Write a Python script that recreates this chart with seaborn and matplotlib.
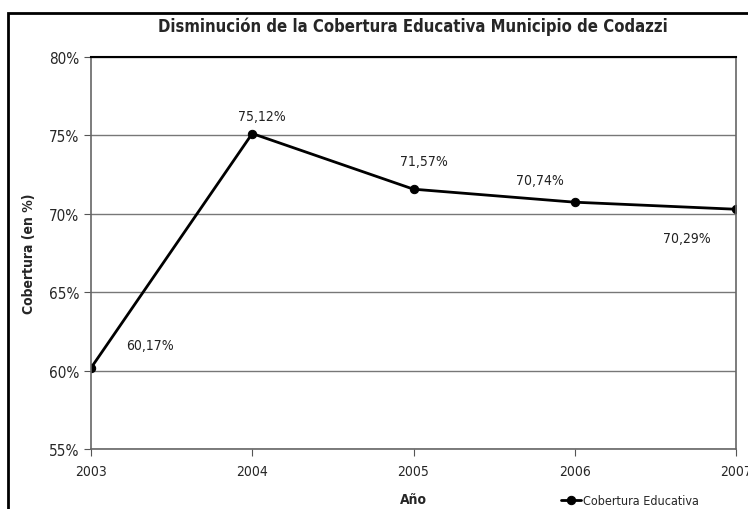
# cobertura educativa Codazzi, 2003-2007

import matplotlib.pyplot as plt
import matplotlib.patches as mpatches
import seaborn as sns
import pandas as pd

years = [2003, 2004, 2005, 2006, 2007]
cobertura = [60.17, 75.12, 71.57, 70.74, 70.29]
label_offsets = [(59, 23), (10, 18), (10, 28), (-35, 22), (-49, -29)]

df = pd.DataFrame({"anio": years, "cobertura": cobertura})

sns.set_style("white")
plt.rcParams["font.family"] = ["DejaVu Sans"]
plt.rcParams["font.stretch"] = "condensed"

fig = plt.figure(figsize=(7.48, 5.10), dpi=100)
ax = fig.add_axes([91 / 748, 60 / 510, (736 - 91) / 748, (450 - 58) / 510])

sns.lineplot(x="anio", y="cobertura", data=df, ax=ax, color="black",
             linewidth=2, marker="o", markersize=6, markeredgecolor="black",
             label="Cobertura Educativa", legend=False)

for x, y, off in zip(years, cobertura, label_offsets):
    ax.annotate(f"{y:.2f}%".replace(".", ","), (x, y), xytext=off,
                textcoords="offset pixels", ha="center", va="center",
                fontsize=10, color="#222222")

ax.set_xlim(2003, 2007)
ax.set_ylim(55, 80)
ax.set_xticks(years)
ax.set_yticks([55, 60, 65, 70, 75, 80])
ax.set_yticklabels([f"{t}%" for t in [55, 60, 65, 70, 75, 80]])
ax.tick_params(axis="both", labelsize=11, length=5, direction="out",
               left=True, bottom=True, color="#555555")
ax.tick_params(axis="x", labelsize=10, pad=6)
ax.grid(axis="y", color="#777777", linewidth=1)
ax.set_axisbelow(True)

for s in ["left", "bottom", "right"]:
    ax.spines[s].set_color("#666666")
    ax.spines[s].set_linewidth(1.2)
ax.spines["top"].set_color("black")
ax.spines["top"].set_linewidth(1.5)

ax.set_xlabel("Año", fontsize=10, fontweight="bold", labelpad=10)
ax.set_ylabel("Cobertura (en %)", fontsize=10, fontweight="bold", labelpad=9)

fig.suptitle("Disminución de la Cobertura Educativa Municipio de Codazzi",
             x=413 / 748, y=1 - 27 / 510, va="center", fontsize=12,
             fontweight="bold")

handles, labels = ax.get_legend_handles_labels()
fig.legend(handles, labels, loc="center", bbox_to_anchor=(630 / 748, 1 - 502 / 510),
           frameon=False, fontsize=9, handlelength=1.6, handletextpad=0.2,
           borderpad=0)

# outer chart frame
fig.patches.append(mpatches.Rectangle((8 / 748, -0.1), 1.0, 1.1 - 14 / 510,
                                      transform=fig.transFigure, fill=False,
                                      edgecolor="black", linewidth=2))

fig.savefig("out.png", dpi=100)
